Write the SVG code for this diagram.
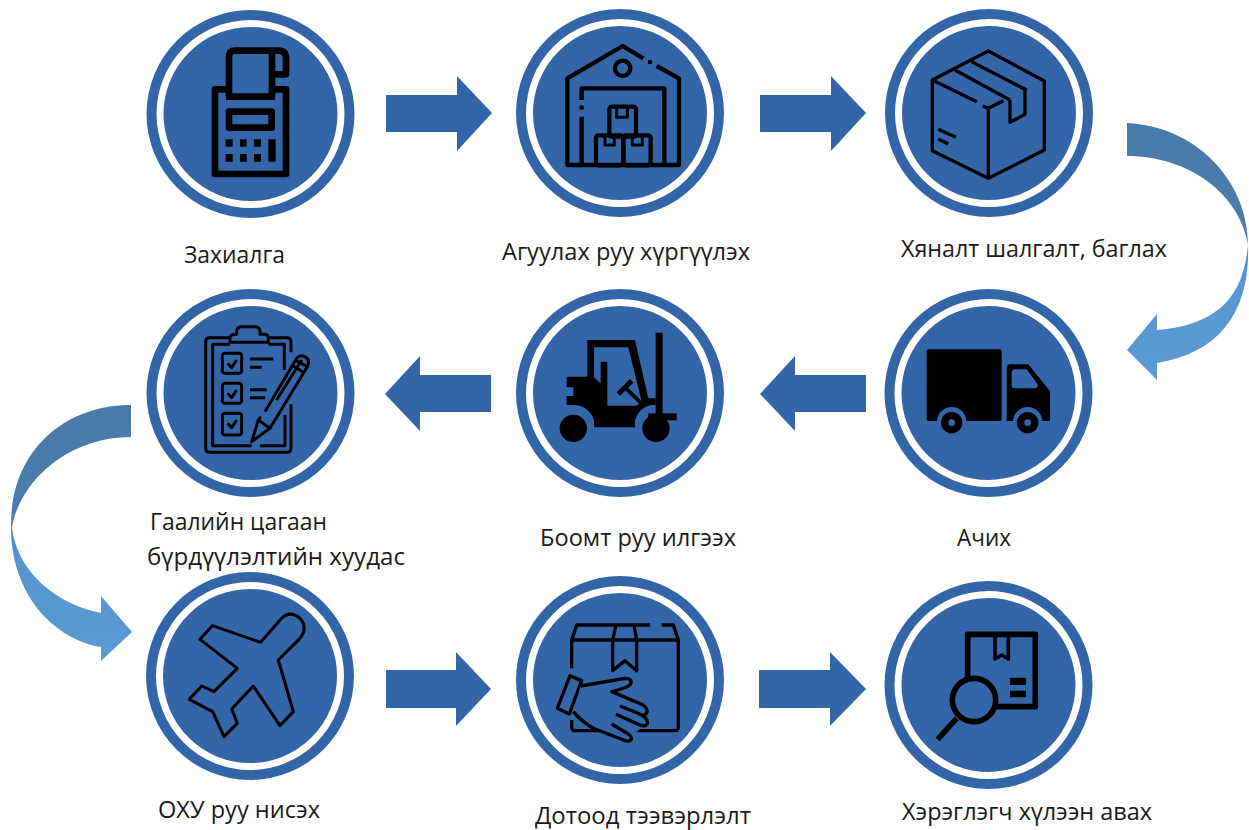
<svg xmlns="http://www.w3.org/2000/svg" width="1249" height="830" viewBox="0 0 1249 830">
<style>
.d{fill:#3366a8}
.r{fill:#3366a8;stroke:#fff;stroke-width:7}
.i{fill:none;stroke:#000;stroke-linejoin:round;stroke-linecap:butt}
.k{fill:#000}
.b{fill:#3366a8}
text{font-family:"Open Sans","Noto Sans",sans-serif;font-size:23.5px;fill:#1a1a1a}
</style>
<defs>
<linearGradient id="g1" gradientUnits="userSpaceOnUse" x1="0" y1="123" x2="0" y2="380"><stop offset="0" stop-color="#4a7aa8"/><stop offset="0.4" stop-color="#4a7dad"/><stop offset="0.6" stop-color="#5795d0"/><stop offset="1" stop-color="#5b9bd5"/></linearGradient>
<linearGradient id="g2" gradientUnits="userSpaceOnUse" x1="0" y1="405" x2="0" y2="661"><stop offset="0" stop-color="#4a7aa8"/><stop offset="0.4" stop-color="#4a7dad"/><stop offset="0.6" stop-color="#5795d0"/><stop offset="1" stop-color="#5b9bd5"/></linearGradient>
<g id="disc"><circle r="104" class="d"/><circle r="90.5" class="r"/></g>
</defs>

<g id="connectors">
<polygon class="d" points="386,95 457,95 457,76 492,113 457,151 457,132 386,132"/>
<polygon class="d" points="760,95 831,95 831,76 866,113 831,151 831,132 760,132"/>
<polygon class="d" points="866,375 795,375 795,356 760,394 795,431 795,412 866,412"/>
<polygon class="d" points="491,375 420,375 420,356 385,394 420,431 420,412 491,412"/>
<polygon class="d" points="386,670 456,670 456,652 491,689 456,726 456,708 386,708"/>
<polygon class="d" points="759,670 830,670 830,652 866,689 830,726 830,708 759,708"/>
<path fill="url(#g1)" d="M1127,123 C1195,126 1248,180 1248,245 C1250,310 1222,352 1157,363 V380 L1127,350 L1157,314 V330 C1215,325 1243,300 1248,245 C1240,195 1190,156 1127,156 Z"/>
<path fill="url(#g2)" d="M131,405 C65,405 11,450 11,525 C10,590 50,638 101,647 V661 L132,632 L101,596 V613 C60,605 18,575 12,528 C18,485 65,437 131,437 Z"/>
</g>

<g id="node-order"><use href="#disc" x="250.5" y="114"/>
<g transform="translate(140 0) scale(.3333)" class="i" stroke-width="20">
<path d="M267,290 V172 Q267,152 285,152 H415 Q438,152 438,175 V223 H396 M396,160 V290 M258,290 H405 M258,268 H225 V522 H438 V268 H405"/>
<rect x="267" y="335" width="128" height="48"/>
<path class="k" stroke="none" d="M257,418h21v22h-21zM300,418h20v22h-20zM342,418h21v22h-21zM257,462h21v23h-21zM300,462h20v23h-20zM342,462h21v23h-21zM385,418h22v67h-22z"/>
</g><text x="184" y="263" textLength="101" lengthAdjust="spacingAndGlyphs">Захиалга</text></g>

<g id="node-warehouse"><use href="#disc" x="620" y="113"/>
<g transform="translate(515 10) scale(.3333)" class="i" stroke-width="13">
<path d="M385,145 L323,108 L157,205 V465 H492 V205 L425,168 M200,270 V235 H448 V465 M200,320 V465"/>
<circle cx="323" cy="175" r="23"/>
<circle class="k" stroke="none" cx="405" cy="156" r="7"/><circle class="k" stroke="none" cx="200" cy="293" r="7"/>
<rect x="283" y="290" width="80" height="90" rx="8"/><rect x="243" y="376" width="82" height="90" rx="8"/><rect x="325" y="376" width="82" height="90" rx="8"/>
<path d="M305,295 V322 H337 V295 M270,380 V405 H298 V380 M352,380 V405 H382 V380" stroke-width="9"/>
</g><text x="502" y="260" textLength="248" lengthAdjust="spacingAndGlyphs">Агуулах руу хүргүүлэх</text></g>

<g id="node-inspect"><use href="#disc" x="989" y="113"/>
<g transform="translate(860 0) scale(.3333)" class="i" stroke-width="10" stroke-linecap="round">
<path d="M350,305 L217,240 L385,153 L553,243 V450 L385,535 L217,452 V240 M385,535 V325 L430,302 M368,318 L385,325 M285,210 L450,300 M335,185 L500,270 M450,300 V367 L495,343 V270 M235,388 L288,412 M235,417 L265,432"/>
</g><text x="901" y="257" textLength="266" lengthAdjust="spacingAndGlyphs">Хяналт шалгалт, баглах</text></g>

<g id="node-truck"><use href="#disc" x="988.5" y="393"/>
<g transform="translate(880 290) scale(.3333)">
<rect class="k" x="140" y="178" width="225" height="215" rx="5"/>
<path class="k" fill-rule="evenodd" d="M380,235 Q380,223 392,223 H445 L510,303 V393 H380 Z M395,250 Q395,238 405,238 H440 L473,283 Q475,295 465,295 H405 Q395,295 395,285 Z"/>
<circle class="b" cx="215" cy="395" r="44"/><circle class="b" cx="443" cy="395" r="44"/>
<rect class="b" x="150" y="394" width="130" height="40"/><rect class="b" x="375" y="394" width="140" height="40"/>
<circle class="k" cx="215" cy="398" r="32"/><circle class="k" cx="443" cy="398" r="32"/>
<circle class="b" cx="215" cy="398" r="10"/><circle class="b" cx="443" cy="398" r="10"/>
</g><text x="957" y="546" textLength="54" lengthAdjust="spacingAndGlyphs">Ачих</text></g>

<g id="node-port"><use href="#disc" x="620" y="393"/>
<g transform="translate(510 290) scale(.3333)">
<path class="k" fill-rule="evenodd" d="M232,150 H375 L415,325 H437 V345 H425 Q390,350 375,390 V412 H252 V390 Q235,345 190,345 H170 V318 H190 V292 H170 V260 H232 Z M252,172 V262 L272,280 V215 H292 V347 H380 L395,335 L355,172 Z"/>
<rect class="k" x="437" y="128" width="21" height="245"/>
<rect class="k" x="415" y="370" width="85" height="21"/>
<circle class="k" cx="190" cy="415" r="41"/><circle class="k" cx="438" cy="415" r="41"/>
<path d="M325,312 L365,272" stroke="#000" stroke-width="15" fill="none"/><path d="M345,292 L392,338" stroke="#000" stroke-width="11" fill="none"/>
</g><text x="540" y="546" textLength="196" lengthAdjust="spacingAndGlyphs">Боомт руу илгээх</text></g>

<g id="node-customs"><use href="#disc" x="250.5" y="393"/>
<g transform="translate(190 315) scale(.3333)" class="i" stroke-width="9" stroke-linecap="round">
<path d="M120,68 H60 Q47,68 47,80 V400 Q47,412 60,412 H290 Q303,412 303,400 V268 M235,68 H290 Q303,68 303,80 V112 M120,88 H68 V392 H185 M210,392 H285 V300 M235,88 H283 V165"/>
<path d="M120,82 V68 Q120,58 140,58 V50 Q140,35 155,35 H195 Q210,35 210,50 V58 H220 Q235,58 235,68 V82 Z"/>
<rect x="97" y="115" width="58" height="60" rx="8"/><rect x="97" y="205" width="58" height="60" rx="8"/><rect x="97" y="295" width="58" height="65" rx="8"/>
<path d="M113,145 L125,158 L140,135 M113,235 L125,248 L140,225 M113,325 L125,338 L140,315 M180,132 H250 M180,157 H215 M180,224 H230 M180,248 H225"/>
<path d="M225,290 L320,130 Q330,118 345,125 Q362,135 352,155 L240,340 L185,380 L205,315 L212,305 M205,315 L240,340 M260,255 L335,135 M305,150 L345,175 M315,135 L352,155"/>
</g><text x="150" y="530" textLength="177" lengthAdjust="spacingAndGlyphs">Гаалийн цагаан</text><text x="147" y="565" textLength="258" lengthAdjust="spacingAndGlyphs">бүрдүүлэлтийн хуудас</text></g>

<g id="node-flight"><use href="#disc" x="250" y="676"/>
<g transform="translate(150 580) scale(.3333)" class="i" stroke-width="9">
<path d="M332,187 L187,137 L150,178 L262,265 L192,335 L155,318 L118,358 L188,395 L222,470 L262,430 L245,387 L310,318 L390,437 L430,395 L385,240 L450,175 Q475,145 450,115 Q420,90 395,115 Z"/>
</g><text x="158" y="818" textLength="162" lengthAdjust="spacingAndGlyphs">ОХУ руу нисэх</text></g>

<g id="node-transport"><use href="#disc" x="620" y="680"/>
<g transform="translate(510 580) scale(.3333)" class="i" stroke-width="10" stroke-linecap="round">
<path d="M185,265 V180 L200,135 H420 M455,135 H490 L505,180 V440 Q505,452 495,452 H195 Q185,452 185,440 V420 M185,180 H505 M318,135 L308,180 V272 L345,242 L380,272 V180 L372,135"/>
<path d="M180,287 L215,302 L178,402 L142,385 Z"/>
<polygon class="b" stroke="none" points="212,318 345,295 365,305 305,335 405,378 412,425 365,470 355,485 250,445 190,395"/>
<path d="M212,318 L345,295 Q368,295 362,312 Q358,322 305,335 L400,375 Q420,392 405,405 Q398,408 385,400 L330,378 M398,407 L405,412 Q420,430 405,437 Q398,440 385,433 L318,403 M305,432 L355,462 Q372,475 358,483 Q350,486 335,478 L250,445 Q215,425 190,395"/>
</g><text x="535" y="824" textLength="216" lengthAdjust="spacingAndGlyphs">Дотоод тээвэрлэлт</text></g>

<g id="node-receive"><use href="#disc" x="988.5" y="685"/>
<g transform="translate(880 580) scale(.3333)" class="i" stroke-width="17">
<path d="M263,290 V163 H466 V380 H350"/>
<path d="M345,165 V237 L365,225 L385,237 V165" stroke-width="11"/>
<path class="k" stroke="none" d="M390,293h48v22h-48zM390,332h48v20h-48z"/>
<circle cx="282" cy="360" r="65"/>
<path d="M230,415 L173,478"/>
</g><text x="902" y="820" textLength="250" lengthAdjust="spacingAndGlyphs">Хэрэглэгч хүлээн авах</text></g>
</svg>
